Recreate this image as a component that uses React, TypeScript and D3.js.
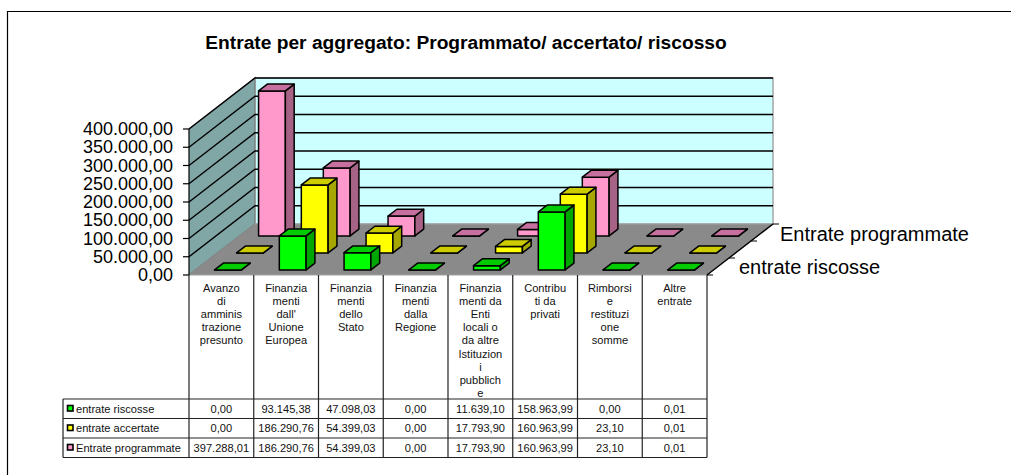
import React from 'react';
import * as d3 from 'd3';

const W = 1011;
const H = 475;

const title = 'Entrate per aggregato: Programmato/ accertato/ riscosso';

const categories = [
  ['Avanzo', 'di', 'amminis', 'trazione', 'presunto'],
  ['Finanzia', 'menti', "dall'", 'Unione', 'Europea'],
  ['Finanzia', 'menti', 'dello', 'Stato'],
  ['Finanzia', 'menti', 'dalla', 'Regione'],
  ['Finanzia', 'menti da', 'Enti', 'locali o', 'da altre', 'Istituzion', 'i', 'pubblich', 'e'],
  ['Contribu', 'ti da', 'privati'],
  ['Rimborsi', 'e', 'restituzi', 'one', 'somme'],
  ['Altre', 'entrate'],
];

const seriesNames = ['entrate riscosse', 'entrate accertate', 'Entrate programmate'];
const riscosse = [0, 93145.38, 47098.03, 0, 11639.1, 158963.99, 0, 0.01];
const accertate = [0, 186290.76, 54399.03, 0, 17793.9, 160963.99, 23.1, 0.01];
const programmate = [397288.01, 186290.76, 54399.03, 0, 17793.9, 160963.99, 23.1, 0.01];
const seriesValues = [riscosse, accertate, programmate];

const yTicks = [0, 50000, 100000, 150000, 200000, 250000, 300000, 350000, 400000];
const depthLabels = ['entrate riscosse', 'Entrate programmate'];

const palette = [
  { front: '#00ff00', top: '#00cc00', side: '#00a600' },
  { front: '#ffff00', top: '#cccc00', side: '#a6a600' },
  { front: '#ff99cc', top: '#c770a0', side: '#a66385' },
];

// chart box: front-left corner of the floor and the depth offset to the back wall
const floorLeft = 189;
const floorRight = 707;
const floorFront = 275;
const depthX = 66;
const depthY = 51;

const x = d3.scaleBand<number>().domain(d3.range(categories.length)).range([floorLeft, floorRight]);
const y = d3.scaleLinear().domain([0, 400000]).range([0, 146]);
const depth = d3.scaleBand<number>().domain(d3.range(3)).range([0, 1]);
const barInset = 0.293;
const depthInset = 0.3;

// oblique projection: horizontal px, depth 0..1, value
const pt = (px: number, d: number, v: number): [number, number] => [
  px + d * depthX,
  floorFront - d * depthY - y(v),
];
const poly = d3.line();

const fmtIt = (v: number) =>
  v.toLocaleString('it-IT', { minimumFractionDigits: 2, maximumFractionDigits: 2, useGrouping: 'always' } as Intl.NumberFormatOptions);

// data table
const rowTop = [399, 418.5, 438];
const rowH = 19.5;
const tableLeft = 63;
const tableHeadTop = 275;
const tableBottom = rowTop[2] + rowH;
const tableFont = 11.1;

export default function App() {
  const stroke = { stroke: '#000', strokeWidth: 1.5, strokeLinejoin: 'round' as const };
  const backL = pt(floorLeft, 1, 0);
  const backR = pt(floorRight, 1, 0);
  const frontL = pt(floorLeft, 0, 0);
  const frontR = pt(floorRight, 0, 0);
  const topBackL = pt(floorLeft, 1, 400000);
  const topBackR = pt(floorRight, 1, 400000);
  const topFrontL = pt(floorLeft, 0, 400000);

  return (
    <svg
      width={W}
      height={H}
      style={{ position: 'absolute', left: 0, top: 0, fontFamily: '"Liberation Sans", Arial, sans-serif' }}
    >
      <rect width={W} height={H} fill="#fff" />
      <path d={`M7.5,${H}V11.5H${W}`} fill="none" stroke="#000" strokeWidth={1.2} />
      <text x={466} y={49} textAnchor="middle" fontSize={19.2} fontWeight="bold" fill="#000">
        {title}
      </text>

      {/* walls and floor */}
      <path d={poly([backL, backR, topBackR, topBackL])!} fill="#ccffff" stroke="#a6a6a6" strokeWidth={1.5} />
      <path d={poly([frontL, backL, topBackL, topFrontL])!} fill="#80a6a6" stroke="#808080" strokeWidth={1.5} />
      <path d={poly([frontL, frontR, backR, backL])!} fill="#8a8a8a" stroke="#a0a0a0" strokeWidth={1} />

      {/* gridlines */}
      {yTicks.slice(1).map((t) => (
        <path
          key={t}
          d={poly([pt(floorLeft, 0, t), pt(floorLeft, 1, t), pt(floorRight, 1, t)])!}
          fill="none"
          stroke="#000"
          strokeWidth={1.4}
        />
      ))}

      {/* value axis */}
      <path d={poly([frontL, topFrontL])!} stroke="#000" strokeWidth={1.2} />
      {yTicks.map((t) => {
        const [px, py] = pt(floorLeft, 0, t);
        return (
          <g key={t}>
            <line x1={px - 6} x2={px} y1={py} y2={py} stroke="#000" strokeWidth={1.2} />
            <text x={px - 16} y={py + 6} textAnchor="end" fontSize={18} fill="#000">
              {fmtIt(t)}
            </text>
          </g>
        );
      })}

      {/* depth axis */}
      <path d={poly([frontR, pt(floorRight, 1, 0)])!} stroke="#000" strokeWidth={1.4} />
      {d3.range(4).map((i) => {
        const [px, py] = pt(floorRight, i / 3, 0);
        return <line key={i} x1={px} x2={px + 6} y1={py} y2={py} stroke="#000" />;
      })}
      <text x={739} y={274} fontSize={20} fill="#000">{depthLabels[0]}</text>
      <text x={780} y={241} fontSize={20} fill="#000">{depthLabels[1]}</text>

      {/* bars, back row first */}
      {[2, 1, 0].map((s) => {
        const d0 = depth(s)! + depth.bandwidth() * depthInset;
        const d1 = depth(s)! + depth.bandwidth() * (1 - depthInset);
        const c = palette[s];
        return seriesValues[s].map((v, i) => {
          const x0 = x(i)! + x.bandwidth() * barInset;
          const x1 = x(i)! + x.bandwidth() * (1 - barInset);
          return (
            <g key={`${s}-${i}`} {...stroke}>
              <path d={poly([pt(x0, d0, v), pt(x1, d0, v), pt(x1, d0, 0), pt(x0, d0, 0)])! + 'Z'} fill={c.front} />
              <path d={poly([pt(x1, d0, v), pt(x1, d1, v), pt(x1, d1, 0), pt(x1, d0, 0)])! + 'Z'} fill={c.side} />
              <path d={poly([pt(x0, d0, v), pt(x1, d0, v), pt(x1, d1, v), pt(x0, d1, v)])! + 'Z'} fill={c.top} />
            </g>
          );
        });
      })}

      {/* data table */}
      <g stroke="#222" strokeWidth={1.2} fill="none">
        <path d={`M${floorLeft},${tableHeadTop}V${tableBottom}`} />
        {categories.map((_, i) => (
          <path key={i} d={`M${x(i)! + x.bandwidth()},${tableHeadTop}V${tableBottom}`} />
        ))}
        {rowTop.map((t) => (
          <path key={t} d={`M${tableLeft},${t}H${floorRight}`} />
        ))}
        <path d={`M${tableLeft},${tableBottom}H${floorRight}M${tableLeft},${rowTop[0]}V${tableBottom}`} />
      </g>
      {categories.map((lines, i) => (
        <text key={i} textAnchor="middle" fontSize={tableFont} fill="#111">
          {lines.map((l, j) => (
            <tspan key={j} x={x(i)! + x.bandwidth() / 2} y={292 + j * 13.1}>
              {l}
            </tspan>
          ))}
        </text>
      ))}
      {seriesNames.map((name, s) => (
        <g key={name}>
          <rect x={67.5} y={rowTop[s] + 6.5} width={5.5} height={5.5} fill={palette[s].front} stroke="#000" strokeWidth={1.6} />
          <text x={76} y={rowTop[s] + 13.5} fontSize={tableFont} fill="#111">
            {name}
          </text>
          {seriesValues[s].map((v, i) => (
            <text key={i} x={x(i)! + x.bandwidth() / 2} y={rowTop[s] + 13.5} textAnchor="middle" fontSize={tableFont} fill="#111">
              {fmtIt(v)}
            </text>
          ))}
        </g>
      ))}
    </svg>
  );
}
